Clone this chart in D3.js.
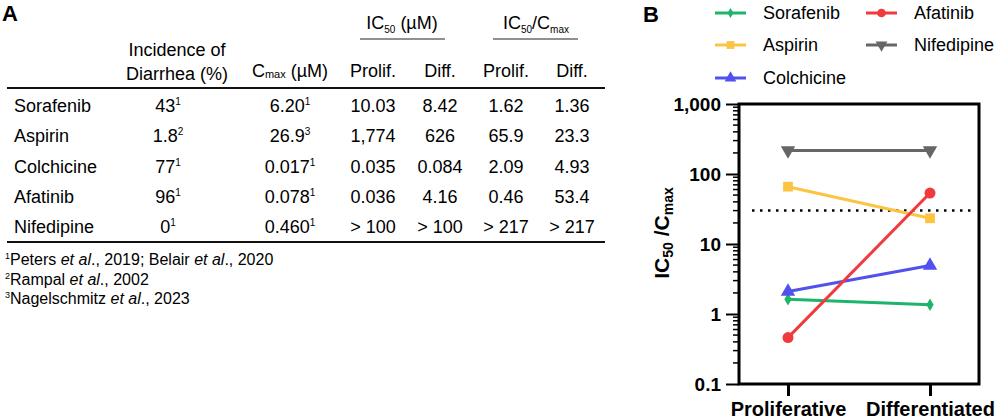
<!DOCTYPE html>
<html>
<head>
<meta charset="utf-8">
<script src="https://cdn.jsdelivr.net/npm/d3@7"></script>
<style>
  body { margin: 0; background: #fff; }
  svg { font-family: Arial, 'Liberation Sans', sans-serif; }
</style>
</head>
<body>
<svg id="fig" width="996" height="420"></svg>
<script>
// table data (panel A)
const drugs = ['Sorafenib', 'Aspirin', 'Colchicine', 'Afatinib', 'Nifedipine']
const incidence = ['43', '1.8', '77', '96', '0']
const incidenceRef = ['1', '2', '1', '1', '1']
const cmax = ['6.20', '26.9', '0.017', '0.078', '0.460']
const cmaxRef = ['1', '3', '1', '1', '1']
const ic50Prolif = ['10.03', '1,774', '0.035', '0.036', '> 100']
const ic50Diff = ['8.42', '626', '0.084', '4.16', '> 100']
const ratioProlif = ['1.62', '65.9', '2.09', '0.46', '> 217']
const ratioDiff = ['1.36', '23.3', '4.93', '53.4', '> 217']
const footnotes = [
  ['1', [['Peters ', 0], ['et al', 1], ['., 2019; Belair ', 0], ['et al', 1], ['., 2020', 0]]],
  ['2', [['Rampal ', 0], ['et al', 1], ['., 2002', 0]]],
  ['3', [['Nagelschmitz ', 0], ['et al', 1], ['., 2023', 0]]]
]

// chart data (panel B)
const stages = ['Proliferative', 'Differentiated']
const sorafenibRatio = [1.62, 1.36]
const aspirinRatio = [65.9, 23.3]
const colchicineRatio = [2.09, 4.93]
const afatinibRatio = [0.46, 53.4]
const nifedipineRatio = [217, 217]
const threshold = 30
const yTicks = [0.1, 1, 10, 100, 1000]

const series = [
  { name: 'Sorafenib', values: sorafenibRatio, color: '#1db46c', symbol: 'diamond' },
  { name: 'Aspirin', values: aspirinRatio, color: '#fbc441', symbol: 'square' },
  { name: 'Colchicine', values: colchicineRatio, color: '#5151ee', symbol: 'triangle' },
  { name: 'Afatinib', values: afatinibRatio, color: '#f13a3e', symbol: 'circle' },
  { name: 'Nifedipine', values: nifedipineRatio, color: '#666666', symbol: 'triangleDown' }
]

const svg = d3.select('#fig')

// ---------- panel A : table ----------
const A = svg.append('g')
A.append('text').attr('x', 2).attr('y', 21).text('A')
  .style('font-weight', 'bold').style('font-size', '22px')

const fs = 18
const colX = { inc: 168, cmax: 290, ip: 373, id: 440, rp: 506, rd: 572 }

// column group headers with underline
function subText(sel, parts, subSize) {
  parts.forEach(p => {
    const t = sel.append('tspan').text(p[0])
    if (p[1] === 'sub') t.style('font-size', subSize + 'px').attr('dy', 4)
    else if (p[1] === 'back') t.attr('dy', -4)
  })
}

const h1 = A.append('text').attr('x', 402).attr('y', 29).attr('text-anchor', 'middle').style('font-size', fs + 'px')
subText(h1, [['IC'], ['50', 'sub'], [' (µM)', 'back']], 10)
const h2 = A.append('text').attr('x', 536).attr('y', 29).attr('text-anchor', 'middle').style('font-size', fs + 'px')
subText(h2, [['IC'], ['50', 'sub'], ['/C', 'back'], ['max', 'sub']], 10)

A.append('line').attr('x1', 360).attr('x2', 445).attr('y1', 39).attr('y2', 39).attr('stroke', '#222').attr('stroke-width', 1.2)
A.append('line').attr('x1', 493).attr('x2', 578).attr('y1', 39).attr('y2', 39).attr('stroke', '#222').attr('stroke-width', 1.2)

A.append('text').attr('x', 177).attr('y', 56).attr('text-anchor', 'middle').style('font-size', fs + 'px').text('Incidence of')
A.append('text').attr('x', 177).attr('y', 80).attr('text-anchor', 'middle').style('font-size', fs + 'px').text('Diarrhea (%)')
const hc = A.append('text').attr('x', 290).attr('y', 77).attr('text-anchor', 'middle').style('font-size', fs + 'px')
hc.append('tspan').text('C')
hc.append('tspan').text('max').style('font-size', '11px').attr('dy', 1)
hc.append('tspan').text(' (µM)').attr('dy', -1)

;[['Prolif.', colX.ip], ['Diff.', colX.id], ['Prolif.', colX.rp], ['Diff.', colX.rd]].forEach(d => {
  A.append('text').attr('x', d[1]).attr('y', 77).attr('text-anchor', 'middle').style('font-size', fs + 'px').text(d[0])
})

A.append('line').attr('x1', 7).attr('x2', 605).attr('y1', 88).attr('y2', 88).attr('stroke', '#111').attr('stroke-width', 2)

const rowY = d3.scalePoint().domain(drugs).range([112, 233])

const rows = A.selectAll('.row').data(drugs).enter().append('g').attr('class', 'row')
  .attr('transform', d => `translate(0,${rowY(d)})`)
  .style('font-size', fs + 'px')

rows.append('text').attr('x', 14).text(d => d)

function withSup(sel, xPos, vals, refs) {
  const t = sel.append('text').attr('x', xPos).attr('text-anchor', 'middle')
  t.append('tspan').text((d, i) => vals[i])
  t.append('tspan').text((d, i) => refs[i]).style('font-size', '10px').attr('dy', -7)
}
withSup(rows, colX.inc, incidence, incidenceRef)
withSup(rows, colX.cmax, cmax, cmaxRef)

;[[ic50Prolif, colX.ip], [ic50Diff, colX.id], [ratioProlif, colX.rp], [ratioDiff, colX.rd]].forEach(c => {
  rows.append('text').attr('x', c[1]).attr('text-anchor', 'middle').text((d, i) => c[0][i])
})

A.append('line').attr('x1', 7).attr('x2', 605).attr('y1', 242).attr('y2', 242).attr('stroke', '#111').attr('stroke-width', 2)

footnotes.forEach((f, i) => {
  const t = A.append('text').attr('x', 5).attr('y', 265 + i * 19.5).style('font-size', '16px')
  t.append('tspan').text(f[0]).style('font-size', '9px').attr('dy', -6)
  f[1].forEach((p, j) => {
    const s = t.append('tspan').text(p[0]).style('font-style', p[1] ? 'italic' : 'normal')
    if (j === 0) s.attr('dy', 6)
  })
})

// ---------- panel B : chart ----------
const B = svg.append('g')
B.append('text').attr('x', 643).attr('y', 22).text('B')
  .style('font-weight', 'bold').style('font-size', '22px')

const plotL = 739, plotR = 979, plotT = 104, plotB = 384

const x = d3.scalePoint().domain(stages).range([plotL, plotR]).padding(0.345)
const y = d3.scaleLog().domain([0.1, 1000]).range([plotB, plotT])

const symbolType = {
  diamond: d3.symbolDiamond, square: d3.symbolSquare, triangle: d3.symbolTriangle,
  circle: d3.symbolCircle, triangleDown: d3.symbolTriangle
}
const symbolSize = { diamond: 45, square: 95, triangle: 90, circle: 95, triangleDown: 90 }

// minor ticks
const minor = []
for (let e = -1; e < 3; e++) for (let m = 2; m <= 9; m++) minor.push(m * Math.pow(10, e))

B.append('g').selectAll('line').data(minor).enter().append('line')
  .attr('x1', plotL - 6).attr('x2', plotL).attr('y1', d => y(d)).attr('y2', d => y(d))
  .attr('stroke', '#000').attr('stroke-width', 1.5)

const yAxis = d3.axisLeft(y).tickValues(yTicks).tickSize(13).tickPadding(5)
  .tickFormat(d => d < 1 ? '0.1' : d3.format(',')(d))
const ya = B.append('g').attr('transform', `translate(${plotL},0)`).call(yAxis)
ya.select('.domain').remove()
ya.selectAll('line').attr('stroke', '#000').attr('stroke-width', 2)
ya.selectAll('text').style('font-size', '19px').style('font-weight', 'bold').style('font-family', 'Arial, Liberation Sans, sans-serif').attr('fill', '#000')

const xAxis = d3.axisBottom(x).tickSize(12).tickPadding(6)
const xa = B.append('g').attr('transform', `translate(0,${plotB})`).call(xAxis)
xa.select('.domain').remove()
xa.selectAll('line').attr('stroke', '#000').attr('stroke-width', 3)
xa.selectAll('text').style('font-size', '20px').style('font-weight', 'bold').style('font-family', 'Arial, Liberation Sans, sans-serif').attr('fill', '#000')
  .attr('dy', '0.71em')

// frame
B.append('rect').attr('x', plotL).attr('y', plotT).attr('width', plotR - plotL).attr('height', plotB - plotT)
  .attr('fill', 'none').attr('stroke', '#000').attr('stroke-width', 3)

// y label
const yl = B.append('text').attr('transform', `translate(669,${(plotT + plotB) / 2 - 11}) rotate(-90)`)
  .attr('text-anchor', 'middle').style('font-size', '21px').style('font-weight', 'bold')
yl.append('tspan').text('IC')
yl.append('tspan').text('50').style('font-size', '14px').attr('dy', 4)
yl.append('tspan').text(' /C').attr('dy', -4)
yl.append('tspan').text('max').style('font-size', '14px').attr('dy', 4)

// threshold line
B.append('line').attr('x1', plotL + 13).attr('x2', plotR - 4).attr('y1', y(threshold)).attr('y2', y(threshold))
  .attr('stroke', '#000').attr('stroke-width', 2.5).attr('stroke-dasharray', '2.5,5.5')

// series
const line = d3.line().x((d, i) => x(stages[i])).y(d => y(d))
const g = B.selectAll('.series').data(series).enter().append('g').attr('class', 'series')
g.append('path').attr('d', d => line(d.values)).attr('fill', 'none')
  .attr('stroke', d => d.color).attr('stroke-width', 3)
g.selectAll('path.pt').data(d => d.values.map((v, i) => ({ v, i, s: d }))).enter().append('path')
  .attr('class', 'pt')
  .attr('d', d => d3.symbol().type(symbolType[d.s.symbol]).size(symbolSize[d.s.symbol])())
  .attr('transform', d => `translate(${x(stages[d.i])},${y(d.v)})` + (d.s.symbol === 'triangleDown' ? ' rotate(180)' : ''))
  .attr('fill', d => d.s.color)

// legend
const legPos = [[715, 13], [715, 45], [715, 78], [866, 13], [866, 45]]
const lg = B.selectAll('.leg').data(series).enter().append('g').attr('class', 'leg')
  .attr('transform', (d, i) => `translate(${legPos[i][0]},${legPos[i][1]})`)
lg.append('line').attr('x1', 0).attr('x2', 31).attr('stroke', d => d.color).attr('stroke-width', 3)
lg.append('path')
  .attr('d', d => d3.symbol().type(symbolType[d.symbol]).size(d.symbol === 'diamond' ? 30 : 60)())
  .attr('transform', d => 'translate(15.5,0)' + (d.symbol === 'triangleDown' ? ' rotate(180)' : ''))
  .attr('fill', d => d.color)
lg.append('text').attr('x', 48).attr('dy', '0.35em').style('font-size', '18px').text(d => d.name)
</script>
</body>
</html>
